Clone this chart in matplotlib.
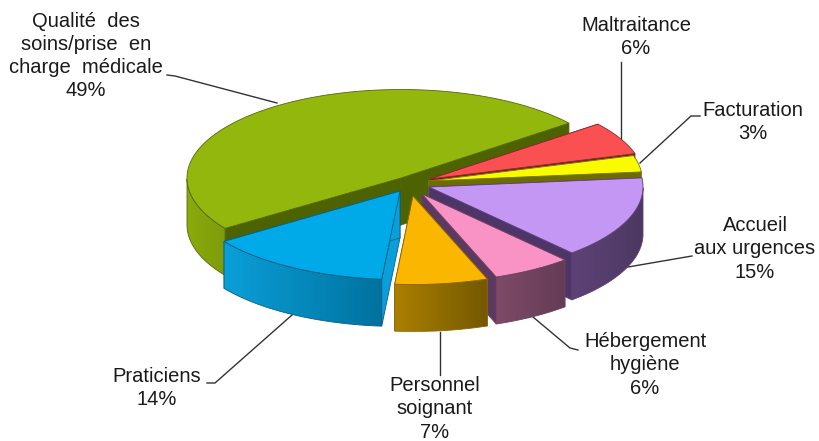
#!/usr/bin/env python3
import numpy as np
import matplotlib.pyplot as plt
from matplotlib.patches import Polygon
from matplotlib.colors import to_rgb

plt.rcParams['font.family'] = ['Liberation Sans', 'DejaVu Sans']

# pie data, clockwise from the top edge of the big slice
categories = ['Maltraitance', 'Facturation', 'Accueil\naux urgences', 'Hébergement\nhygiène',
              'Personnel\nsoignant', 'Praticiens', 'Qualité  des\nsoins/prise  en\ncharge  médicale']
values = [6, 3, 15, 6, 7, 14, 49]

# slice styles, same order
top_colors = ['#fb5052', '#fbfb00', '#c497f5', '#f992c5', '#fbb700', '#00a9e8', '#93b70c']
edge_colors = ['#8a2a2c', '#77770a', '#5a4078', '#6e3f60', '#8a6600', '#0a5f84', '#55680a']
face_colors = ['#701c20', '#6c6c00', '#4e3568', '#5c3a60', '#7a5c00', '#0b9fda', '#4d6200']
wall_left = ['#8f2c2e', '#8c8c00', '#5e4276', '#7e4a68', '#ab8000', '#0a9fd8', '#8aaa0c']
wall_right = ['#8f2c2e', '#8c8c00', '#4c3862', '#643c56', '#745800', '#00729f', '#7e9c0a']

# where each exploded slice has its tip
tips = [(430, 179), (428.5, 181), (429, 187), (422, 194), (413, 196), (400, 191), (401, 178)]

A, B = 214, 88.5   # ellipse radii of the tilted pie
DEPTH = 47
START = 38.3


def rim(tip, t):
    t = np.radians(t)
    return np.column_stack([tip[0] + A * np.cos(t), tip[1] - B * np.sin(t)])


def draw_slice(ax, tip, t0, t1, top, edge, face, wl, wr):
    # t0 > t1: angles run clockwise
    ts = np.linspace(t0, t1, 120)
    arc = rim(tip, ts)
    tip_xy = np.array(tip, dtype=float)
    down = np.array([0, DEPTH])

    # the two cut faces
    for p in (arc[0], arc[-1]):
        quad = np.array([tip_xy, p, p + down, tip_xy + down])
        ax.fill(quad[:, 0], quad[:, 1], color=face, ec=edge, lw=0.6, zorder=ax.z)
        ax.z += 1

    # outer wall, only the part turned to the front, shaded left to right
    front = np.sin(np.radians(ts)) <= 0
    if front.any():
        wall = arc[front]
        wall = wall[np.argsort(wall[:, 0])]
        outline = np.vstack([wall, wall[::-1] + down])
        x0, x1 = outline[:, 0].min(), outline[:, 0].max()
        y0, y1 = outline[:, 1].min(), outline[:, 1].max()
        grad = np.linspace(to_rgb(wl), to_rgb(wr), 256)[None, :, :]
        im = ax.imshow(grad, extent=(x0, x1, y1, y0), aspect='auto', zorder=ax.z, interpolation='bilinear')
        patch = Polygon(outline, closed=True, transform=ax.transData, fc='none', ec=edge, lw=0.6, zorder=ax.z + 1)
        ax.add_patch(patch)
        im.set_clip_path(patch)
        ax.z += 2

    # top of the slice
    poly = np.vstack([tip_xy, arc])
    ax.fill(poly[:, 0], poly[:, 1], color=top, ec=edge, lw=0.6, zorder=ax.z)
    ax.z += 1


fig = plt.figure(figsize=(8.19, 4.41), dpi=100)
ax = fig.add_axes([0, 0, 1, 1])
ax.axis('off')
ax.z = 2

# slice angles come from the values
ends = START - np.cumsum(values) * 3.6
starts = np.concatenate([[START], ends[:-1]])

# painted back to front
for i in [6, 0, 1, 2, 3, 5, 4]:
    draw_slice(ax, tips[i], starts[i], ends[i], top_colors[i], edge_colors[i],
               face_colors[i], wall_left[i], wall_right[i])

# leader lines
leaders = [
    ([620.5, 620.5], [62, 140]),
    ([700, 691, 640], [116, 116, 163]),
    ([692, 628], [256, 267]),
    ([578, 570, 533], [350, 348, 317]),
    ([440, 440], [332, 375]),
    ([207, 215, 292], [383, 383, 315]),
    ([167, 175, 277], [75, 76, 103]),
]
for xs, ys in leaders:
    ax.plot(xs, ys, color='#333333', lw=1.0, zorder=1)

# labels
label_pos = [(636, 37), (753, 122), (755, 249), (645, 365), (435, 409), (157, 388), (86, 56)]
for cat, val, (x, y) in zip(categories, values, label_pos):
    ax.text(x, y, f'{cat}\n{val}%', ha='center', va='center', fontsize=14.5,
            color='#1a1a1a', linespacing=1.28, zorder=100, clip_on=False)

ax.set_xlim(0, 819)
ax.set_ylim(441, 0)
fig.savefig('out.png', dpi=100)
